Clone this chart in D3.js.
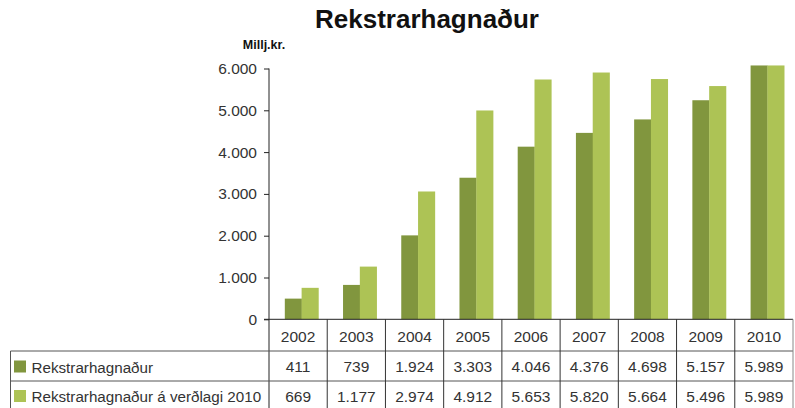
<!DOCTYPE html>
<html>
<head>
<meta charset="utf-8">
<script src="https://cdn.jsdelivr.net/npm/d3@7"></script>
<style>
  body { margin: 0; background: #fff; }
  svg { display: block; font-family: 'Liberation Sans', Arial, sans-serif; }
</style>
</head>
<body>
<div id="chart"></div>
<script>
// data
var years = ['2002', '2003', '2004', '2005', '2006', '2007', '2008', '2009', '2010']
var rekstur = [411, 739, 1924, 3303, 4046, 4376, 4698, 5157, 5989]
var reksturVerdlag = [669, 1177, 2974, 4912, 5653, 5820, 5664, 5496, 5989]
var seriesNames = ['Rekstrarhagnaður', 'Rekstrarhagnaður á verðlagi 2010']
var yTicks = [0, 1000, 2000, 3000, 4000, 5000, 6000]

var width = 795
var height = 408
var colors = ['#81963e', '#adc355']

var plotLeft = 269
var plotRight = 793
var plotTop = 68.5
var plotBottom = 319.3
var rowLines = [351, 381]
var depth = 3.5

var fmt = function (v) {
    return d3.format(',')(v).replace(/,/g, '.')
}

var svg = d3.select('#chart')
    .append('svg')
    .attr('width', width)
    .attr('height', height)

// title
svg.append('text')
    .attr('x', 427)
    .attr('y', 28)
    .attr('text-anchor', 'middle')
    .attr('font-size', 26)
    .attr('font-weight', 'bold')
    .attr('fill', '#111')
    .text('Rekstrarhagnaður')

svg.append('text')
    .attr('x', 264)
    .attr('y', 49)
    .attr('text-anchor', 'middle')
    .attr('font-size', 12.5)
    .attr('font-weight', 'bold')
    .attr('fill', '#111')
    .text('Millj.kr.')

var xScale = d3.scaleBand()
    .domain(years)
    .range([plotLeft, plotRight])

var yScale = d3.scaleLinear()
    .domain([0, 6000])
    .range([plotBottom, plotTop])

// bars sit a little up and right of the grid (flat 3D look)
var xBar = d3.scaleBand()
    .domain(years)
    .range([plotLeft + depth, plotRight + depth])

var yBar = d3.scaleLinear()
    .domain([0, 6000])
    .range([plotBottom - depth, plotTop - depth])

var inner = d3.scaleBand()
    .domain([0, 1])
    .range([0, 33.6])

var offset = (xBar.bandwidth() - 33.6) / 2

var seriesData = [rekstur, reksturVerdlag]

seriesData.forEach(function (vals, s) {
    svg.append('g')
        .selectAll('rect')
        .data(vals)
        .enter()
        .append('rect')
        .attr('x', (d, i) => xBar(years[i]) + offset + inner(s))
        .attr('width', inner.bandwidth() + 0.3)
        .attr('y', (d) => yBar(d))
        .attr('height', (d) => plotBottom - yBar(d))
        .attr('fill', colors[s])
})

// y axis
var yAxis = d3.axisLeft(yScale)
    .tickValues(yTicks)
    .tickSize(5)
    .tickPadding(7)
    .tickFormat(fmt)

var yg = svg.append('g')
    .attr('transform', 'translate(' + plotLeft + ',0)')
    .call(yAxis)

yg.select('.domain').remove()
yg.selectAll('line').attr('stroke', '#222')
yg.selectAll('text')
    .attr('font-size', 15.5)
    .attr('fill', '#333')
    .attr('font-family', 'Liberation Sans, Arial, sans-serif')

// table lines
var lines = svg.append('g').attr('stroke-width', 1)

lines.append('line')
    .attr('x1', plotLeft).attr('x2', plotLeft)
    .attr('y1', plotTop).attr('y2', height)
    .attr('stroke', '#222')

lines.append('line')
    .attr('x1', plotLeft - 5).attr('x2', plotRight)
    .attr('y1', plotBottom).attr('y2', plotBottom)
    .attr('stroke', '#222')

lines.selectAll('.row')
    .data(rowLines)
    .enter()
    .append('line')
    .attr('x1', 10.5).attr('x2', plotRight)
    .attr('y1', (d) => d).attr('y2', (d) => d)
    .attr('stroke', '#555')

lines.append('line')
    .attr('x1', 10.5).attr('x2', 10.5)
    .attr('y1', rowLines[0]).attr('y2', height)
    .attr('stroke', '#555')

lines.selectAll('.col')
    .data(years)
    .enter()
    .append('line')
    .attr('x1', (d) => xScale(d) + xScale.bandwidth())
    .attr('x2', (d) => xScale(d) + xScale.bandwidth())
    .attr('y1', plotBottom).attr('y2', height)
    .attr('stroke', (d, i) => i === years.length - 1 ? '#888' : '#333')

// table text
var cellText = function (vals, y) {
    svg.append('g')
        .selectAll('text')
        .data(vals)
        .enter()
        .append('text')
        .attr('x', (d, i) => xScale(years[i]) + xScale.bandwidth() / 2)
        .attr('y', y)
        .attr('text-anchor', 'middle')
        .attr('font-size', 15.5)
        .attr('fill', '#333')
        .text((d) => typeof d === 'number' ? fmt(d) : d)
}

cellText(years, 341.5)
cellText(rekstur, 372)
cellText(reksturVerdlag, 401.5)

// legend in the first column
var legendY = [372.5, 402]
seriesNames.forEach(function (name, s) {
    svg.append('rect')
        .attr('x', 14)
        .attr('y', legendY[s] - 12)
        .attr('width', 12)
        .attr('height', 12)
        .attr('fill', colors[s])
    svg.append('text')
        .attr('x', 31.5)
        .attr('y', legendY[s])
        .attr('font-size', 15.2)
        .attr('fill', '#333')
        .text(name)
})
</script>
</body>
</html>
